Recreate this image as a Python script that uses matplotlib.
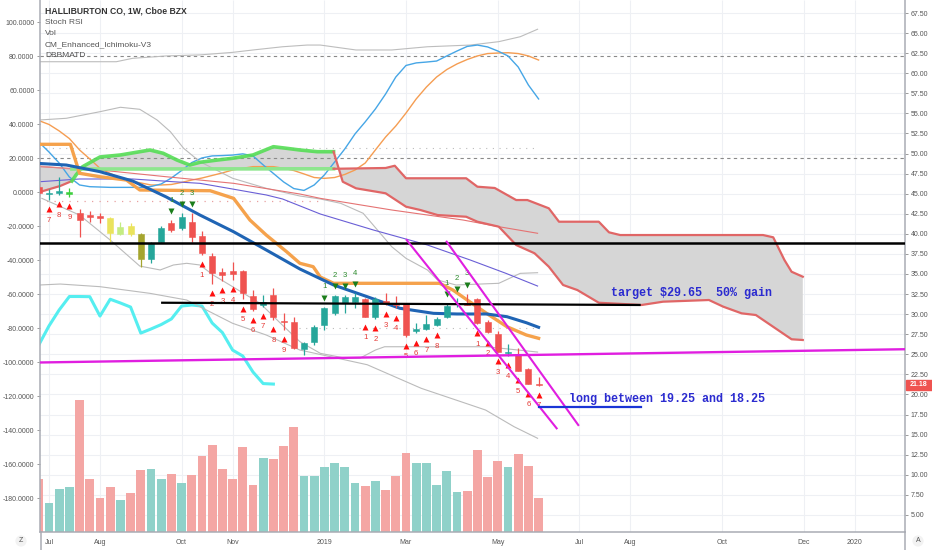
import numpy as np
import pandas as pd
import matplotlib
matplotlib.use("Agg")
import matplotlib.pyplot as plt
import matplotlib.dates as mdates
from matplotlib.transforms import offset_copy, blended_transform_factory
from matplotlib.lines import Line2D
from matplotlib.patches import Rectangle

plt.rcParams['font.family'] = ['Liberation Sans', 'DejaVu Sans']

# ---- HALLIBURTON CO, weekly candles ----
dates = pd.date_range("2018-06-25", periods=50, freq="7D")
opens = [45.87, 44.96, 45.08, 44.92, 42.63, 42.34, 42.22, 41.93, 39.98, 40.97,
         39.98, 36.87, 38.94, 41.31, 40.69, 41.51, 39.73, 37.24, 35.28, 35.41,
         35.41, 32.30, 31.14, 32.38, 29.14, 28.98, 25.62, 26.57, 28.65, 30.18,
         31.42, 31.55, 31.85, 29.61, 31.63, 31.35, 31.35, 27.96, 28.15, 28.65,
         29.68, 31.22, 31.39, 31.88, 29.06, 27.53, 25.16, 25.03, 23.17, 21.32]
highs = [46.33, 45.54, 47.04, 45.67, 43.05, 42.88, 42.56, 42.13, 41.51, 41.39,
         40.07, 39.02, 40.97, 41.72, 42.56, 42.56, 40.39, 37.58, 35.71, 36.53,
         35.50, 33.00, 32.38, 33.22, 30.10, 29.68, 26.57, 28.65, 30.93, 32.38,
         32.38, 32.59, 31.97, 32.13, 32.67, 32.26, 31.42, 28.86, 29.89, 29.68,
         31.35, 31.97, 32.51, 32.01, 29.27, 27.94, 26.28, 25.74, 23.29, 22.21]
lows = [44.71, 44.21, 44.84, 44.62, 39.57, 41.51, 41.31, 39.02, 39.85, 39.73,
        35.91, 36.33, 38.86, 40.26, 40.48, 39.02, 37.36, 33.75, 34.16, 34.25,
        31.85, 30.43, 30.93, 29.27, 28.02, 25.66, 24.91, 26.16, 28.02, 29.89,
        30.18, 30.73, 29.61, 29.39, 31.14, 30.73, 27.19, 27.61, 28.02, 28.52,
        29.48, 30.93, 31.14, 28.77, 27.61, 25.28, 24.79, 22.92, 21.24, 21.10]
closes = [45.05, 45.12, 45.33, 45.25, 41.72, 42.06, 41.93, 40.07, 40.81, 39.98,
          36.87, 38.82, 40.76, 40.48, 42.06, 39.57, 37.58, 35.08, 34.87, 34.96,
          32.59, 30.64, 31.55, 29.68, 28.98, 25.82, 26.44, 28.43, 30.73, 32.26,
          32.10, 32.17, 29.68, 31.85, 31.42, 31.14, 27.40, 28.09, 28.73, 29.36,
          31.07, 31.35, 31.20, 28.86, 27.81, 25.32, 25.25, 22.96, 21.30, 21.18]
volume = [42.6, 23.0, 34.6, 36.2, 105.6, 42.2, 27.0, 35.8, 25.4, 31.0,
          49.6, 50.4, 42.6, 46.2, 39.0, 45.4, 60.6, 69.4, 50.6, 42.2,
          68.0, 37.8, 59.4, 58.2, 68.8, 84.2, 44.8, 44.8, 51.8, 55.0,
          52.0, 39.4, 36.8, 41.0, 33.8, 44.8, 63.2, 55.2, 55.2, 37.8,
          48.8, 32.0, 32.8, 65.8, 43.8, 56.6, 52.0, 62.6, 52.8, 27.4]

# ---- Stoch RSI (left scale), same weeks ----
stoch_k = [29.6, 23.7, 17.2, 9.0, 4.3, 3.3, 3.1, 2.9, 2.9, 2.9,
           2.9, 3.4, 4.9, 8.4, 12.8, 17.5, 20.2, 21.4, 21.6, 21.9,
           22.6, 21.4, 16.1, 11.1, 6.1, 2.2, 1.1, 4.3, 10.2, 17.8,
           25.5, 34.3, 41.4, 49.0, 57.8, 67.8, 74.6, 76.1, 76.6, 77.2,
           80.2, 83.1, 85.8, 86.6, 85.5, 83.1, 80.2, 73.7, 63.1, 54.9]
stoch_d = [42.2, 39.9, 36.1, 31.6, 24.9, 19.6, 14.1, 11.1, 8.4, 6.6,
           5.5, 4.3, 4.3, 4.6, 5.8, 7.2, 8.4, 9.9, 11.4, 13.1,
           14.1, 15.1, 15.1, 15.1, 14.1, 12.8, 10.8, 8.7, 8.2, 8.7,
           10.5, 13.1, 17.2, 24.9, 32.5, 39.0, 46.6, 54.9, 61.9, 67.8,
           72.2, 75.5, 78.1, 80.2, 81.6, 81.9, 82.1, 81.6, 80.2, 77.8]
# DBBMATD line (left scale), first 24 weeks
dbb = [-89.8, -78.6, -69.2, -61.3, -61.3, -61.4, -72.8, -62.9, -65.1, -67.5,
       -82.8, -80.4, -77.8, -74.5, -66.9, -66.3, -66.9, -76.9, -82.5, -92.8,
       -96.3, -105.7, -112.5, -112.8]
# upper band (left scale); x in weeks after 2018-07-02
g1_wk = [-0.9, 6.6, 8.2, 11.5, 14.8, 18.0, 20.0, 22.9, 25.3, 26.6, 30.1, 33.6, 37.1, 41.3, 44.1, 46.2, 47.9]
g1 = [76.8, 76.8, 78.8, 80.2, 80.8, 82.3, 83.7, 85.6, 86.6, 86.6, 83.7, 83.7, 85.6, 86.6, 88.6, 91.5, 95.9]

# ---- Ichimoku cloud (price), x in weeks after 2018-07-02 ----
span_a_wk = [-0.9, 1.1, 2.25, 2.65, 3.3, 5.0, 7.0, 9.9, 11.2, 12.55, 13.8, 14.8, 16.5, 18.0, 20.0,
             22.0, 23.3, 24.6, 26.3, 27.9, 28.8, 30.1, 33.0, 35.0, 36.4, 38.1, 40.9, 42.0, 44.1,
             45.8, 47.6, 49.0, 50.4, 51.8, 53.9, 58.1, 60.2, 64.7, 66.1, 67.9, 69.3, 72.8, 73.9]
span_a = [45.21, 45.96, 46.58, 47.33, 48.36, 49.57, 49.82, 50.44, 50.03, 49.19, 48.57, 48.91, 49.19,
          49.41, 49.82, 50.85, 50.65, 50.44, 50.23, 50.23, 46.49, 45.67, 45.05, 43.38, 42.97, 42.34,
          42.13, 41.51, 40.89, 38.61, 37.58, 35.91, 33.63, 33.00, 31.42, 31.14, 31.55, 31.76, 30.93,
          30.10, 29.89, 26.87, 26.78]
span_b_wk = [-0.9, 2.25, 27.9, 33.0, 33.9, 35.0, 40.9, 42.0, 43.7, 45.8, 46.9, 49.0, 50.0, 53.9,
             54.9, 56.0, 70.0, 71.0, 72.1, 72.8, 73.9]
span_b = [48.45, 48.07, 48.10, 48.20, 48.48, 46.92, 46.92, 45.87, 45.71, 44.21, 44.21, 43.18, 41.51,
          41.51, 40.19, 39.85, 39.85, 39.57, 36.74, 35.28, 34.66]

# ---- other overlays (price) ----
g2_wk = [-0.9, 1.7, 5.0, 7.0, 8.9, 10.6, 11.9, 13.2, 14.8, 18.0, 21.3, 24.6, 26.6, 28.6, 30.8, 32.2,
         33.6, 35.0, 37.1, 38.1, 39.9, 44.1, 46.2, 47.9]
g2 = [54.18, 54.39, 55.21, 55.76, 55.51, 54.18, 52.72, 50.65, 48.98, 46.92, 45.67, 44.71, 44.34,
      43.80, 42.56, 40.48, 38.40, 36.95, 35.50, 34.25, 33.63, 33.84, 35.08, 35.16]
g3_wk = [-0.7, 3.0, 6.0, 8.9, 10.9, 12.2, 13.5, 14.8, 16.1, 18.0, 20.7, 22.7, 24.6, 26.6, 29.0, 30.5,
         32.0, 32.9, 42.9, 47.9]
g3 = [44.42, 42.34, 39.23, 35.99, 35.50, 36.12, 36.33, 36.12, 34.87, 33.42, 31.35, 28.86, 26.57,
      25.12, 24.53, 24.53, 25.53, 25.94, 25.94, 25.28]
g4_wk = [-0.9, 1.1, 5.0, 9.9, 13.5, 18.0, 21.3, 24.6, 31.2, 36.5, 40.4, 42.8, 45.6, 47.9]
g4 = [33.63, 33.75, 33.42, 32.59, 31.76, 28.86, 27.40, 25.53, 23.70, 20.76, 19.09, 18.06, 15.98, 14.54]
ma_blue_wk = [-0.9, 1.7, 5.0, 8.2, 11.5, 14.8, 18.1, 21.3, 24.6, 27.9, 31.2, 34.4, 37.7, 40.0, 42.9,
              44.9, 46.8, 48.0]
ma_blue = [48.76, 48.57, 47.74, 46.58, 44.59, 42.34, 40.26, 37.99, 35.62, 33.63, 32.17, 30.73, 30.10,
           30.02, 30.02, 29.68, 28.93, 28.36]
kijun_wk = [-0.9, 2.1, 3.0, 5.0, 7.6, 8.9, 15.8, 18.1, 19.7, 21.3, 23.3, 24.6, 25.9, 26.6, 27.9, 38.3,
            39.6, 41.0, 42.9, 44.9, 46.8, 48.0]
kijun = [51.15, 51.15, 47.54, 47.11, 46.70, 45.46, 45.37, 44.42, 41.72, 39.85, 37.77, 36.33, 35.91,
         34.62, 33.84, 33.84, 33.00, 31.76, 30.10, 28.43, 27.40, 26.99]
purple_wk = [-0.9, 3.0, 8.2, 12.2, 14.8, 18.0, 21.3, 22.9, 26.6, 31.8, 37.1, 41.3, 44.8, 47.9]
purple = [46.49, 46.83, 46.83, 46.49, 46.29, 45.58, 44.84, 44.34, 42.47, 40.48, 38.61, 36.74, 35.08, 33.50]
red_ma_wk = [-0.9, 5.0, 11.5, 18.1, 24.6, 26.6, 33.6, 40.6, 44.1, 47.9]
red_ma = [48.36, 47.95, 47.11, 46.29, 44.96, 44.42, 42.97, 41.72, 40.89, 40.07]

# ---- TD sequential counts (week index from 2018-07-02) ----
buy_wk = [0, 1, 2] + list(range(15, 24)) + list(range(31, 39)) + list(range(42, 49))
buy_num = [7, 8, 9] + list(range(1, 10)) + list(range(1, 9)) + list(range(1, 8))
sell_wk = [12, 13, 14, 27, 28, 29, 30, 39, 40, 41]
sell_num = [1, 2, 3, 1, 2, 3, 4, 1, 2, 3]

# ---- hand drawings ----
black_level = 38.80
black2_wk = [11.1, 57.9]
black2 = [31.42, 31.14]
magenta_wk = [-0.9, 83.9]
magenta = [23.98, 25.63]
chan_a_wk = [35.07, 49.77]
chan_a = [39.23, 15.78]
chan_b_wk = [38.99, 51.89]
chan_b = [39.02, 16.19]
long_wk = [48.0, 58.0]
long_lvl = [18.38, 18.38]
last_price = 21.18

tick_dates = ["2018-07-02", "2018-08-06", "2018-10-01", "2018-11-05", "2019-01-07", "2019-03-04",
              "2019-05-06", "2019-07-01", "2019-08-05", "2019-10-07", "2019-12-02", "2020-01-06"]
tick_labels = ["Jul", "Aug", "Oct", "Nov", "2019", "Mar", "May", "Jul", "Aug", "Oct", "Dec", "2020"]

base = mdates.date2num(pd.Timestamp("2018-07-02"))


def wk(a):
    return base + 7 * np.asarray(a, dtype=float)


x = mdates.date2num(dates)
opens, highs, lows, closes = map(np.array, (opens, highs, lows, closes))
up = closes >= opens

fig = plt.figure(figsize=(9.32, 5.5), dpi=100)
ax = fig.add_axes([40 / 932, 18 / 550, 865 / 932, 532 / 550])
ax2 = ax.twinx()
ax3 = ax.twinx()
for a in (ax, ax2, ax3):
    a.patch.set_visible(False)
    for s in a.spines.values():
        s.set_visible(False)
ax3.set_zorder(0)
ax2.set_zorder(1)
ax.set_zorder(2)

# grid + cloud fill on the bottom layer
right_ticks = np.arange(5, 67.6, 2.5)
ax3.hlines(right_ticks, 0, 1, transform=ax.get_yaxis_transform(), color='#eef0f4', lw=0.8, zorder=0)
tick_x = mdates.date2num(pd.to_datetime(tick_dates))
ax3.vlines(tick_x, 0, 1, transform=ax3.get_xaxis_transform(), color='#eef0f4', lw=0.8, zorder=0)
poly_x = np.concatenate([wk(span_a_wk), wk(span_b_wk)[::-1]])
poly_y = np.concatenate([span_a, span_b[::-1]])
ax3.fill(poly_x, poly_y, transform=ax.transData, color='#d6d6d6', lw=0, zorder=0.5)

# volume
vcol = np.where(up, '#8fd1c9', '#f4a6a4')
ax3.bar(x, volume, width=6.1, color=vcol, zorder=1)

# left-scale indicators
ax2.axhline(80, color='#8a8a8a', lw=0.8, ls=(0, (3, 3)))
ax2.axhline(20, color='#8a8a8a', lw=0.8, ls=(0, (3, 3)))
ax2.hlines(26, x[0], x[-1], color='#bbbbbb', lw=0.8, ls=(0, (1, 5)))
ax2.hlines(-5, x[0], wk(27), color='#e8a0a0', lw=0.9, ls=(0, (1, 5)))
ax2.hlines(-80, wk(24.5), x[-1], color='#bbbbbb', lw=0.8, ls=(0, (1, 5)))
ax2.plot(wk(g1_wk), g1, color='#bdbdbd', lw=0.8)
ax2.plot(x, stoch_d, color='#f59d52', lw=1.0)
ax2.plot(x, stoch_k, color='#46a6e6', lw=1.0)
ax2.plot(x[:len(dbb)], dbb, color='#55eef0', lw=2.2)

# price-scale overlays
ax.plot(wk(g2_wk), g2, color='#bbbbbb', lw=0.8, zorder=2)
ax.plot(wk(g3_wk), g3, color='#bbbbbb', lw=0.8, zorder=2)
ax.plot(wk(g4_wk), g4, color='#bbbbbb', lw=0.8, zorder=2)
ax.plot(wk(red_ma_wk), red_ma, color='#e57373', lw=0.8, zorder=2)
ax.plot(wk(purple_wk), purple, color='#6a5fd6', lw=0.8, zorder=2)

sa_x, sb_x = wk(span_a_wk), wk(span_b_wk)
ax.plot(sa_x[:3], span_a[:3], color='#e06666', lw=1.6, zorder=3)
ax.plot(sa_x[2:20], span_a[2:20], color='#55dd55', lw=2.6, alpha=0.9, zorder=3)
ax.plot(sa_x[19:], span_a[19:], color='#e06666', lw=1.6, zorder=3)
ax.plot(sb_x[:2], span_b[:2], color='#e08888', lw=1.0, alpha=0.7, zorder=3)
ax.plot(sb_x[1:3], span_b[1:3], color='#8ee68e', lw=2.6, zorder=3)
ax.plot(sb_x[2:], span_b[2:], color='#e06666', lw=1.6, zorder=3)

ax.plot(wk(kijun_wk), kijun, color='#f5a24c', lw=2.4, zorder=4)
ax.plot(wk(ma_blue_wk), ma_blue, color='#1f64b4', lw=2.2, zorder=4)

# candles
bar_colors = {3: '#3ccf3c', 7: '#eae35c', 8: '#c4ec82', 9: '#eae35c', 10: '#a5a52e'}
ccol = [bar_colors.get(i, '#26a69a' if u else '#ef5350') for i, u in enumerate(up)]
ax.vlines(x, lows, highs, colors=ccol, lw=0.9, zorder=5)
body_lo = np.minimum(opens, closes)
body_h = np.maximum(np.abs(closes - opens), 0.13)
ax.bar(x, body_h, bottom=body_lo, width=4.2, color=ccol, edgecolor=ccol, lw=0.4, zorder=6)

# TD counts
low_at = dict(zip(range(-1, 49), lows))
high_at = dict(zip(range(-1, 49), highs))
tri_b = offset_copy(ax.transData, fig=fig, y=-6.8, units='points')
num_b = offset_copy(ax.transData, fig=fig, y=-14.6, units='points')
tri_s = offset_copy(ax.transData, fig=fig, y=6.5, units='points')
num_s = offset_copy(ax.transData, fig=fig, y=14.4, units='points')
bx = wk(buy_wk)
by = [low_at[k] for k in buy_wk]
ax.plot(bx, by, ls='none', marker='^', ms=4.6, color='#ff1010', mec='none', transform=tri_b, zorder=7)
for xx, yy, n in zip(bx, by, buy_num):
    ax.text(xx, yy, str(n), transform=num_b, ha='center', va='center', fontsize=5.6, color='#e53935', zorder=7)
sx = wk(sell_wk)
sy = [high_at[k] for k in sell_wk]
ax.plot(sx, sy, ls='none', marker='v', ms=4.6, color='#1b7d1b', mec='none', transform=tri_s, zorder=7)
for xx, yy, n in zip(sx, sy, sell_num):
    ax.text(xx, yy, str(n), transform=num_s, ha='center', va='center', fontsize=5.6, color='#2e8b2e', zorder=7)

# drawings
ax.axhline(black_level, color='black', lw=1.8, zorder=8)
ax.plot(wk(black2_wk), black2, color='black', lw=1.6, zorder=8)
ax.plot(wk(magenta_wk), magenta, color='#e01ee0', lw=1.7, zorder=8)
ax.plot(wk(chan_a_wk), chan_a, color='#e01ee0', lw=1.5, zorder=8)
ax.plot(wk(chan_b_wk), chan_b, color='#e01ee0', lw=1.5, zorder=8)
ax.plot(wk(long_wk), long_lvl, color='#1a35d6', lw=1.6, zorder=8)
ax.text(wk(55.07), 32.59, "target $29.65  50% gain", fontsize=8.5, color='#2b2bd0',
        family=['Liberation Mono', 'DejaVu Sans Mono'], weight='bold', va='center', zorder=9)
ax.text(wk(51.01), 19.43, "long between 19.25 and 18.25", fontsize=8.5, color='#2b2bd0',
        family=['Liberation Mono', 'DejaVu Sans Mono'], weight='bold', va='center', zorder=9)

# limits
ax.set_xlim(wk(-0.88), wk(83.92))
ax.set_ylim(2.87, 69.12)
ax2.set_ylim(-199.8, 113.1)
ax3.set_ylim(0, 425.6)

# axes / ticks
ax.spines['left'].set_visible(True)
ax.spines['right'].set_visible(True)
ax.spines['bottom'].set_visible(True)
for s in ('left', 'right', 'bottom'):
    ax.spines[s].set_color('#a9acb4')
    ax.spines[s].set_linewidth(1.1)
ax.yaxis.tick_right()
ax.set_yticks(right_ticks)
ax.set_yticklabels([f"{v:.2f}" for v in right_ticks])
ax.tick_params(axis='y', length=2.5, width=0.6, color='#8a8a8a', pad=1.5, labelsize=5.0, labelcolor='#555555')
ax.set_xticks(tick_x)
ax.set_xticklabels(tick_labels)
ax.tick_params(axis='x', length=0, pad=5, labelsize=5.0, labelcolor='#555555')

ax2.yaxis.tick_left()
left_ticks = np.arange(-180, 101, 20)
ax2.set_yticks(left_ticks)
ax2.set_yticklabels([f"{v:.4f}" for v in left_ticks])
ax2.tick_params(axis='y', length=2.5, width=0.6, color='#8a8a8a', pad=1.5, labelsize=5.0, labelcolor='#555555')
ax3.set_yticks([])
ax3.tick_params(axis='both', length=0, labelbottom=False, labelright=False)

# last price tag
tr = blended_transform_factory(fig.transFigure, ax.transData)
fig.patches.append(Rectangle((906 / 932, last_price - 0.65), 26 / 932, 1.3, transform=tr,
                             color='#ef5350', zorder=10))
fig.text(919 / 932, last_price, f"{last_price:.2f}", transform=tr, ha='center', va='center',
         fontsize=5.0, color='white', weight='bold', zorder=11)

# bottom strip separators and buttons
for xp in (40.5, 905):
    fig.add_artist(Line2D([xp / 932] * 2, [0, 18 / 550], color='#a9acb4', lw=1.1))
fig.text(21 / 932, 1 - 541 / 550, "Z", ha='center', va='center', fontsize=5, color='#555555',
         bbox=dict(boxstyle='circle,pad=0.3', fc='#f2f2f2', ec='none'))
fig.text(918 / 932, 1 - 541 / 550, "A", ha='center', va='center', fontsize=5, color='#555555',
         bbox=dict(boxstyle='circle,pad=0.3', fc='#f2f2f2', ec='none'))

# legend block
fig.text(45 / 932, 1 - 11 / 550, "HALLIBURTON CO, 1W, Cboe BZX", fontsize=6.2, weight='bold',
         color='#333333', va='center')
for i, name in enumerate(["Stoch RSI", "Vol", "CM_Enhanced_Ichimoku-V3", "DBBMATD"]):
    fig.text(45 / 932, 1 - (22.3 + 11.2 * i) / 550, name, fontsize=6.0, color='#555555', va='center')

fig.savefig("out.png", dpi=100, facecolor='white')
